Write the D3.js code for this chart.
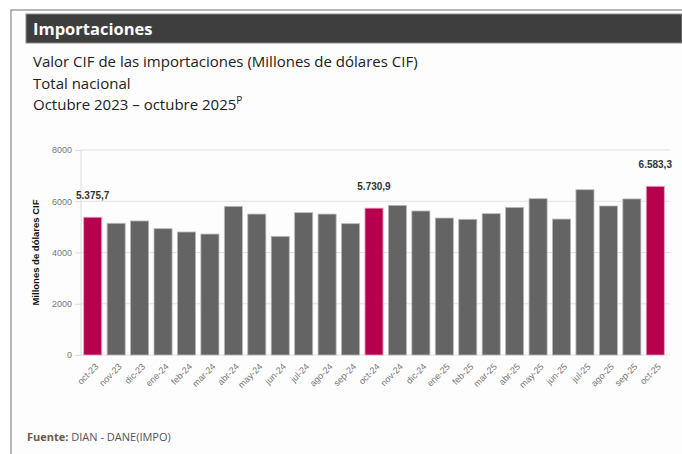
<!DOCTYPE html>
<html>
<head>
<meta charset="utf-8">
<script src="https://cdn.jsdelivr.net/npm/d3@7"></script>
<style>
  body { margin: 0; background: #fff; }
  svg { display: block; }
</style>
</head>
<body>
<div id="chart"></div>
<script>
// datos: valor CIF mensual (millones USD)
var months = ["oct-23", "nov-23", "dic-23", "ene-24", "feb-24", "mar-24", "abr-24", "may-24", "jun-24",
	"jul-24", "ago-24", "sep-24", "oct-24", "nov-24", "dic-24", "ene-25", "feb-25", "mar-25", "abr-25",
	"may-25", "jun-25", "jul-25", "ago-25", "sep-25", "oct-25"];
var values = [5375.7, 5140, 5230, 4930, 4800, 4720, 5800, 5500, 4630,
	5555, 5500, 5125, 5730.9, 5840, 5620, 5345, 5295, 5515, 5760,
	6100, 5305, 6450, 5815, 6090, 6583.3];
var highlighted = ["oct-23", "oct-24", "oct-25"];
var yTicks = [0, 2000, 4000, 6000, 8000];

var width = 682, height = 454;
var fmt = d3.formatLocale({decimal: ",", thousands: ".", grouping: [3], currency: ["", ""]}).format(",.1f");

var svg = d3.select("#chart").append("svg")
	.attr("width", width)
	.attr("height", height)

// marco
svg.append("rect").attr("x", 11).attr("y", 10).attr("width", width).attr("height", height)
	.attr("fill", "#fdfdfd").attr("stroke", "#8a8a8a").attr("stroke-width", 1.2);

// cabecera
svg.append("rect").attr("x", 26).attr("y", 14).attr("width", width - 26).attr("height", 29)
	.attr("fill", "#3e3e3e").attr("stroke", "#8c8c8c").attr("stroke-width", 1);
svg.append("text").attr("x", 33).attr("y", 35)
	.style("font-family", "'Open Sans', sans-serif").style("font-weight", "bold").style("font-size", "16.5px")
	.attr("fill", "#fff").text("Importaciones");

var titleLines = ["Valor CIF de las importaciones (Millones de dólares CIF)", "Total nacional"];
titleLines.forEach(function(t, i) {
	svg.append("text").attr("x", 33).attr("y", 67 + i * 21.5)
		.style("font-family", "'Open Sans', sans-serif").style("font-size", "15px")
		.attr("fill", "#222").text(t);
});
var t3 = svg.append("text").attr("x", 33).attr("y", 110)
	.style("font-family", "'Open Sans', sans-serif").style("font-size", "15px").attr("fill", "#222");
t3.append("tspan").text("Octubre 2023 – octubre 2025");
t3.append("tspan").attr("dy", -6).style("font-size", "10px").text("P");

// escalas
var x = d3.scaleBand().domain(months).range([81, 667]).paddingInner(0.23).paddingOuter(0.115);
var y = d3.scaleLinear().domain([0, 8000]).range([355, 150]);

// rejilla
svg.append("g").selectAll("line").data(yTicks).enter().append("line")
	.attr("x1", 81).attr("x2", 670)
	.attr("y1", d => y(d)).attr("y2", d => y(d))
	.attr("stroke", "#e2e2e2").attr("stroke-width", 1);

svg.append("line").attr("x1", 81).attr("x2", 81).attr("y1", y(8000)).attr("y2", y(0))
	.attr("stroke", "#dcdcdc");

var yAxis = svg.append("g").attr("transform", "translate(81,0)")
	.call(d3.axisLeft(y).tickValues(yTicks).tickSize(6).tickFormat(d3.format("d")));
yAxis.select(".domain").remove();
yAxis.selectAll(".tick line").attr("stroke", "#dcdcdc");
yAxis.selectAll("text").attr("fill", "#777")
	.style("font-family", "'Liberation Sans', Arial, sans-serif").style("font-size", "9px");

svg.append("text")
	.attr("transform", "translate(39," + y(4000) + ") rotate(-90)")
	.attr("text-anchor", "middle")
	.style("font-family", "'Liberation Sans', Arial, sans-serif").style("font-size", "9.5px").style("font-weight", "bold")
	.attr("fill", "#111").text("Millones de dólares CIF");

// barras
svg.append("g").selectAll("rect").data(months).enter().append("rect")
	.attr("x", d => x(d))
	.attr("y", (d, i) => y(values[i]))
	.attr("width", x.bandwidth())
	.attr("height", (d, i) => y(0) - y(values[i]))
	.attr("fill", d => highlighted.includes(d) ? "#b7004d" : "#646464")
	.attr("stroke", d => highlighted.includes(d) ? "#e8a0bd" : "#b9b9b9")
	.attr("stroke-width", 0.8);

// etiquetas de valor
svg.append("g").selectAll("text").data(months.filter(d => highlighted.includes(d))).enter().append("text")
	.attr("x", d => x(d) + x.bandwidth() / 2)
	.attr("y", d => y(values[months.indexOf(d)]) - 18)
	.attr("text-anchor", "middle")
	.style("font-family", "'Liberation Sans', Arial, sans-serif").style("font-size", "10px").style("font-weight", "bold")
	.attr("fill", "#333")
	.text(d => fmt(values[months.indexOf(d)]));

// eje x
var xAxis = svg.append("g").attr("transform", "translate(0,355)")
	.call(d3.axisBottom(x).tickSize(0));
xAxis.select(".domain").remove();
xAxis.selectAll("text")
	.attr("fill", "#777")
	.style("font-family", "'Liberation Sans', Arial, sans-serif").style("font-size", "9px")
	.style("text-anchor", "end")
	.attr("x", 0)
	.attr("y", 0)
	.attr("dy", "0.35em")
	.attr("transform", "translate(4,10) rotate(-45)");

// fuente
var src = svg.append("text").attr("x", 27).attr("y", 441)
	.style("font-family", "'Open Sans', sans-serif").style("font-size", "11px").attr("fill", "#555");
src.append("tspan").style("font-weight", "bold").attr("fill", "#6b5a4a").text("Fuente: ");
src.append("tspan").text("DIAN - DANE(IMPO)");
</script>
</body>
</html>
